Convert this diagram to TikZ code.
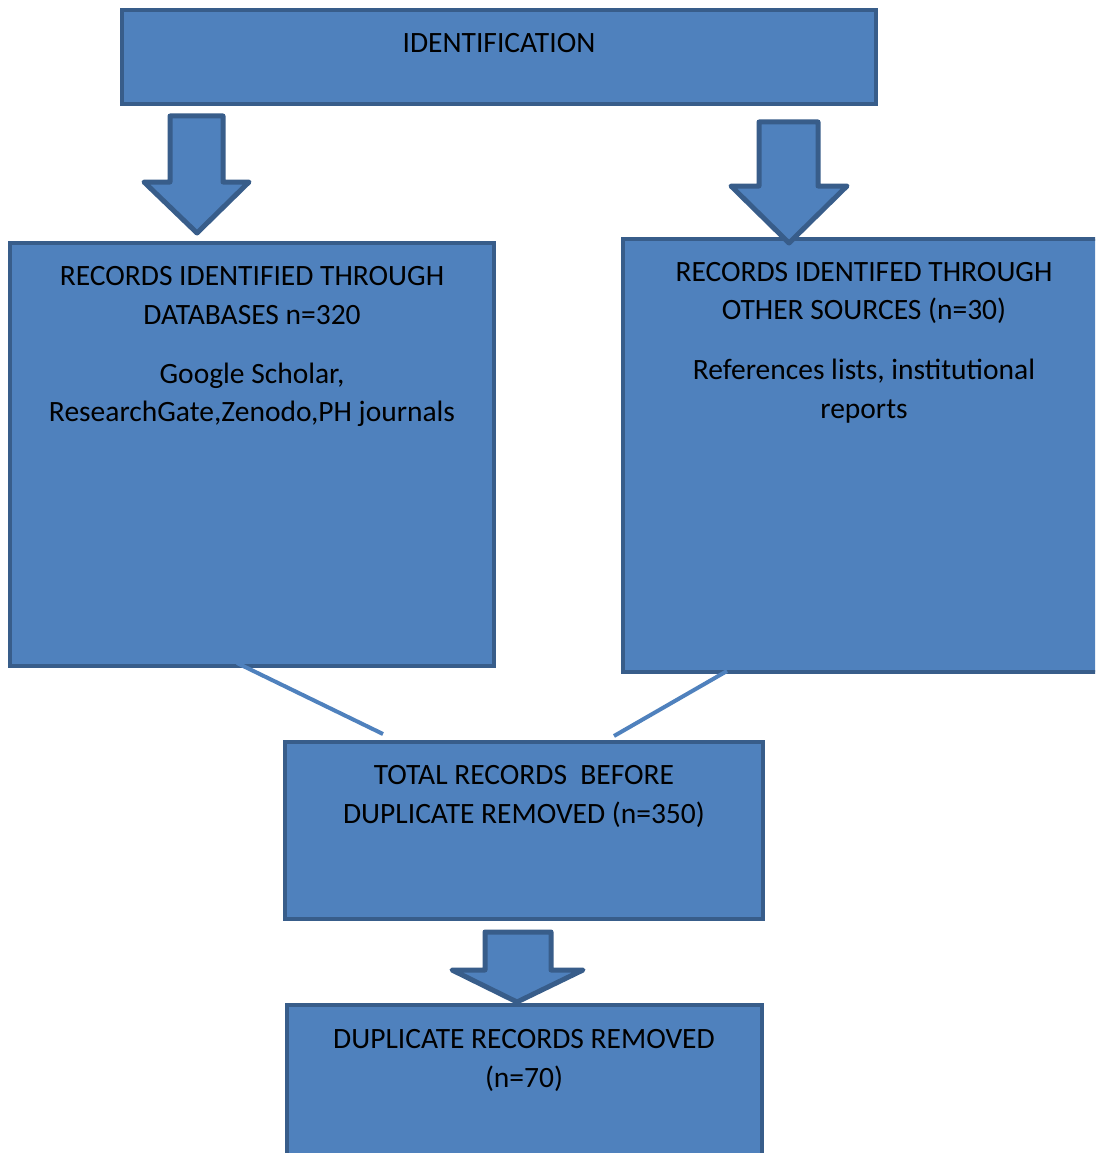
\documentclass[tikz,border=0pt]{standalone}
\usepackage{fontspec}
\setmainfont{Carlito}
\definecolor{boxfill}{HTML}{4F81BD}
\definecolor{boxline}{HTML}{385D8A}
\begin{document}
\begin{tikzpicture}[x=1pt,y=-1pt,
  box/.style={draw=boxline,fill=boxfill,line width=4.5pt,rectangle,inner sep=0pt,text=black},
  txt/.style={anchor=base,inner sep=0pt,font=\fontsize{29.5}{38}\selectfont,text=black},
  blockarrow/.style={draw=boxline,fill=boxfill,line width=5pt,line join=round},
  link/.style={draw=boxfill,line width=4pt}]
\clip (0,0) rectangle (1095,1153);
\fill[white] (0,0) rectangle (1095,1153);

% boxes
\node[box,minimum width=754pt,minimum height=94pt] (ident) at (499,57) {};
\node[box,minimum width=484pt,minimum height=423pt] (db) at (252,454.5) {};
\node[box,minimum width=482pt,minimum height=433pt] (other) at (864,455.5) {};
\node[box,minimum width=478pt,minimum height=177pt] (total) at (524,830.5) {};
\node[box,minimum width=475pt,minimum height=165pt] (dup) at (524.5,1087.5) {};

% texts
\node[txt] (tident) at (499,53) {IDENTIFICATION};
\node[txt] (tdb1) at (252,285) {RECORDS IDENTIFIED THROUGH};
\node[txt] (tdb2) at (252,324) {DATABASES n=320};
\node[txt] (tdb3) at (252,383) {Google Scholar,};
\node[txt] (tdb4) at (252,421) {ResearchGate,Zenodo,PH journals};
\node[txt] (tot1) at (864,281) {RECORDS IDENTIFED THROUGH};
\node[txt] (tot2) at (864,319) {OTHER SOURCES (n=30)};
\node[txt] (tot3) at (864,379) {References lists, institutional};
\node[txt] (tot4) at (864,418) {reports};
\node[txt] (ttot1) at (524,784) {TOTAL RECORDS\ \ BEFORE};
\node[txt] (ttot2) at (524,823) {DUPLICATE REMOVED (n=350)};
\node[txt] (tdup1) at (524,1048) {DUPLICATE RECORDS REMOVED};
\node[txt] (tdup2) at (524,1087) {(n=70)};

% block arrows
\draw[blockarrow] (170,116) -- (223,116) -- (223,182) -- (249,182) -- (197,233) -- (144,182) -- (170,182) -- cycle;
\draw[blockarrow] (759,122) -- (818,122) -- (818,186) -- (847,186) -- (789,243) -- (731,186) -- (759,186) -- cycle;
\draw[blockarrow] (485,932) -- (551,932) -- (551,970) -- (583,970) -- (517,1002) -- (452,970) -- (485,970) -- cycle;

% connectors
\coordinate (c1) at (237,663);
\coordinate (c2) at (383,734);
\coordinate (c3) at (727,671);
\coordinate (c4) at (614,736);
\draw[link] (c1) -- (c2);
\draw[link] (c3) -- (c4);
\end{tikzpicture}
\end{document}
